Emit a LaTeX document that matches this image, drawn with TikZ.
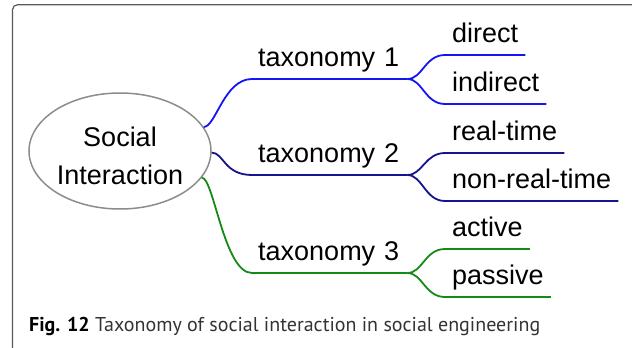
\documentclass[tikz,border=0pt]{standalone}
\usepackage{fontspec}
\setmainfont{Liberation Sans}
\newfontfamily\capfont{PT Sans}
\usetikzlibrary{shapes.geometric}
\definecolor{framegray}{HTML}{5A5A5A}
\definecolor{ovalgray}{HTML}{8C8C8C}
\definecolor{branchA}{HTML}{1414F5}
\definecolor{branchB}{HTML}{14148C}
\definecolor{branchC}{HTML}{168A16}
\definecolor{captext}{HTML}{333333}
\tikzset{
  rootshape/.style={ellipse, draw=ovalgray, line width=1.5pt, minimum width=182pt, minimum height=116pt, inner sep=0pt},
  roottext/.style={font=\fontsize{27}{38}\selectfont, align=center, inner sep=0pt},
  branchnode/.style={font=\fontsize{27}{27}\selectfont, inner ysep=0pt, text depth=12.5pt, anchor=south west},
  midnode/.style={branchnode, inner xsep=6pt, text width=143pt, align=left},
  leafnode/.style={branchnode, inner xsep=7pt},
  conn/.style={line width=1.8pt},
}
\begin{document}
\begin{tikzpicture}[x=1pt,y=-1pt]
\useasboundingbox (0,0) rectangle (632,348);
\clip (0,0) rectangle (632,348);
% outer frame, running off the right and bottom edges
\draw[framegray, line width=1.2pt, rounded corners=5pt] (12.5,370) -- (12.5,4.7) -- (660,4.7);

% central topic
\node[rootshape] (root) at (120,151) {};
\node[roottext] (rootlabel) at (120,156) {Social\\Interaction};

% first level
\node[midnode] (t1) at (252,79) {taxonomy 1};
\node[midnode] (t2) at (252,175) {taxonomy 2};
\node[midnode] (t3) at (252,273) {taxonomy 3};

% second level
\node[leafnode] (l1) at (445,55) {direct};
\node[leafnode] (l2) at (445,104) {indirect};
\node[leafnode] (l3) at (445,153) {real-time};
\node[leafnode] (l4) at (445,201) {non-real-time};
\node[leafnode] (l5) at (445,249) {active};
\node[leafnode] (l6) at (445,297) {passive};

% branches
\draw[conn, branchA] (root.16) .. controls +(12,0) and +(-28,0) .. (t1.south west) -- (t1.south east);
\draw[conn, branchA] (t1.south east) .. controls +(15,0) and +(-20,0) .. (l1.south west) -- (l1.south east);
\draw[conn, branchA] (t1.south east) .. controls +(15,0) and +(-20,0) .. (l2.south west) -- (l2.south east);

\draw[conn, branchB] (root.-1) .. controls +(12,0) and +(-28,0) .. (t2.south west) -- (t2.south east);
\draw[conn, branchB] (t2.south east) .. controls +(15,0) and +(-20,0) .. (l3.south west) -- (l3.south east);
\draw[conn, branchB] (t2.south east) .. controls +(15,0) and +(-20,0) .. (l4.south west) -- (l4.south east);

\draw[conn, branchC] (root.-18) .. controls +(12,0) and +(-28,0) .. (t3.south west) -- (t3.south east);
\draw[conn, branchC] (t3.south east) .. controls +(15,0) and +(-20,0) .. (l5.south west) -- (l5.south east);
\draw[conn, branchC] (t3.south east) .. controls +(15,0) and +(-20,0) .. (l6.south west) -- (l6.south east);

% caption
\node[anchor=base west, inner sep=0pt, font=\capfont\fontsize{20}{20}\selectfont] (caption) at (29,331)
  {\textbf{Fig. 12} \textcolor{captext}{Taxonomy of social interaction in social engineering}};
\end{tikzpicture}
\end{document}
